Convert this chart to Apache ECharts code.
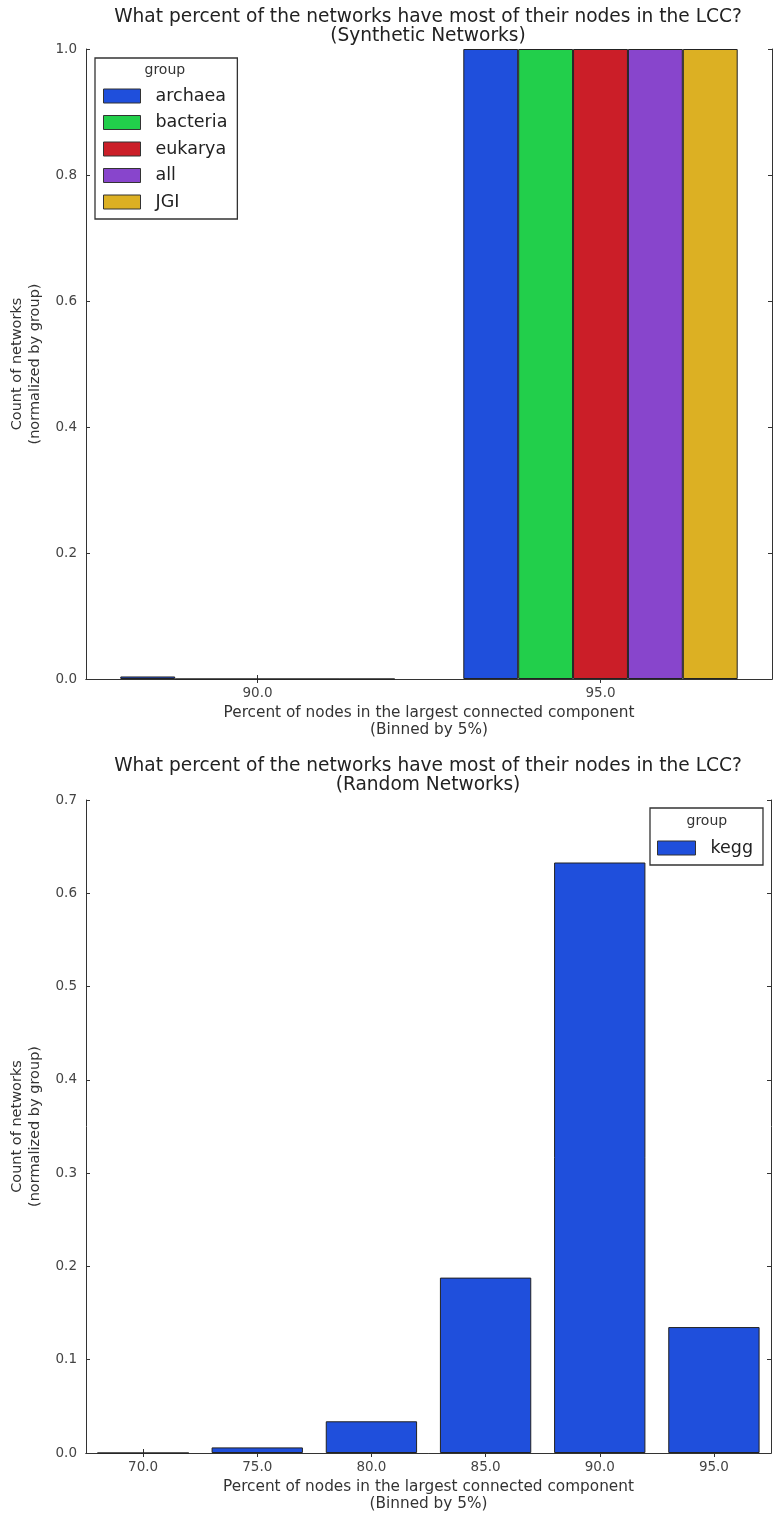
<!DOCTYPE html>
<html>
<head>
<meta charset="utf-8">
<script src="https://cdn.jsdelivr.net/npm/echarts@6/dist/echarts.min.js"></script>
<style>html,body{margin:0;padding:0;background:#fff}#c{width:775px;height:1517px}</style>
</head>
<body>
<div id="c"></div>
<script>
// ---- Data ----
const synthCategories = ['90.0', '95.0'];
const synthGroups = ['archaea', 'bacteria', 'eukarya', 'all', 'JGI'];
const archaea = [0.004, 1.0];
const bacteria = [0, 1.0];
const eukarya = [0, 1.0];
const allNet = [0, 1.0];
const jgi = [0, 1.0];
const synthValues = [archaea, bacteria, eukarya, allNet, jgi];
const synthColors = ['#1f4fdc', '#22cf4b', '#cb1e28', '#8845cc', '#dcb023'];

const randomCategories = ['70.0', '75.0', '80.0', '85.0', '90.0', '95.0'];
const kegg = [0.0, 0.006, 0.034, 0.188, 0.633, 0.135];

const synthTicks = [0.0, 0.2, 0.4, 0.6, 0.8, 1.0];
const randomTicks = [0.0, 0.1, 0.2, 0.3, 0.4, 0.5, 0.6, 0.7];

const title1 = 'What percent of the networks have most of their nodes in the LCC?';
const xName = 'Percent of nodes in the largest connected component\n(Binned by 5%)';
const yName = 'Count of networks\n(normalized by group)';

// ---- Styling ----
const FONT = 'DejaVu Sans';
const lineC = '#333';
const tickLabel = {color: '#444', fontFamily: FONT, fontSize: 13.5};

function xAxisPair(gridIndex, cats) {
  return [
    {type: 'category', gridIndex, data: cats, position: 'bottom',
     axisLine: {show: true, lineStyle: {color: lineC, width: 1}},
     axisTick: {show: true, inside: true, length: 4, alignWithLabel: true, lineStyle: {color: lineC}},
     axisLabel: Object.assign({margin: 7}, tickLabel),
     name: xName, nameLocation: 'middle', nameGap: 26,
     nameTextStyle: {color: '#333', fontFamily: FONT, fontSize: 15.3, lineHeight: 17},
     splitLine: {show: false}},
    {type: 'category', gridIndex, data: cats, position: 'top',
     axisLine: {show: true, lineStyle: {color: lineC, width: 1}},
     axisTick: {show: true, inside: true, length: 4, alignWithLabel: true, lineStyle: {color: lineC}},
     axisLabel: {show: false}, splitLine: {show: false}}
  ];
}
function yAxisPair(gridIndex, ticks) {
  const mn = ticks[0], mx = ticks[ticks.length - 1];
  const iv = +(ticks[1] - ticks[0]).toFixed(3);
  return [
    {type: 'value', gridIndex, min: mn, max: mx, interval: iv, position: 'left',
     axisLine: {show: true, lineStyle: {color: lineC, width: 1}},
     axisTick: {show: true, inside: true, length: 4, lineStyle: {color: lineC}},
     axisLabel: Object.assign({margin: 9, formatter: v => v.toFixed(1)}, tickLabel),
     splitLine: {show: false},
     name: yName, nameLocation: 'middle', nameGap: 39, nameRotate: 90,
     nameTextStyle: {color: '#333', fontFamily: FONT, fontSize: 14.5, lineHeight: 18}},
    {type: 'value', gridIndex, min: mn, max: mx, interval: iv, position: 'right',
     axisLine: {show: true, lineStyle: {color: lineC, width: 1}},
     axisTick: {show: true, inside: true, length: 4, lineStyle: {color: lineC}},
     axisLabel: {show: false}, splitLine: {show: false}}
  ];
}

const series = synthGroups.map((g, i) => ({
  name: g, type: 'bar', xAxisIndex: 0, yAxisIndex: 0,
  data: synthValues[i], barGap: '0%', barCategoryGap: '20%',
  itemStyle: {color: synthColors[i], borderColor: '#222', borderWidth: 1},
  emphasis: {disabled: true}
}));
series.push({
  name: 'kegg', type: 'bar', xAxisIndex: 2, yAxisIndex: 2,
  data: kegg, barWidth: '80%',
  itemStyle: {color: synthColors[0], borderColor: '#222', borderWidth: 1},
  emphasis: {disabled: true}
});

const legendText = {color: '#222', fontFamily: FONT, fontSize: 17.5, lineHeight: 18, padding: [0, 0, 0, 10]};
const titleStyle = {color: '#222', fontFamily: FONT, fontSize: 18.6, fontWeight: 'normal', lineHeight: 19};

const option = {
  animation: false,
  backgroundColor: '#fff',
  title: [
    {text: title1 + '\n(Synthetic Networks)', left: 428, top: 8, padding: 0, textAlign: 'center', textStyle: titleStyle},
    {text: title1 + '\n(Random Networks)', left: 428, top: 757, padding: 0, textAlign: 'center', textStyle: titleStyle}
  ],
  grid: [
    {left: 86, right: 3, top: 49, height: 630, containLabel: false},
    {left: 86, right: 4, top: 800, height: 653, containLabel: false}
  ],
  xAxis: [...xAxisPair(0, synthCategories), ...xAxisPair(1, randomCategories)],
  yAxis: [...yAxisPair(0, synthTicks), ...yAxisPair(1, randomTicks)],
  legend: [
    {data: synthGroups, orient: 'vertical', left: 95, top: 58, icon: 'rect',
     itemWidth: 37, itemHeight: 14, itemGap: 8.5, padding: [29, 10, 8, 8],
     borderColor: '#333', borderWidth: 1.3, selectedMode: false,
     itemStyle: {borderColor: '#333', borderWidth: 1}, textStyle: legendText},
    {data: ['kegg'], orient: 'vertical', left: 650, top: 808, icon: 'rect',
     itemWidth: 38, itemHeight: 14, padding: [31, 10, 8, 7],
     borderColor: '#333', borderWidth: 1.3, selectedMode: false,
     itemStyle: {borderColor: '#333', borderWidth: 1}, textStyle: legendText}
  ],
  graphic: [
    {type: 'text', left: 144.5, top: 63, style: {text: 'group', fill: '#333', font: '14px "DejaVu Sans"'}},
    {type: 'text', left: 686.5, top: 814, style: {text: 'group', fill: '#333', font: '14px "DejaVu Sans"'}}
  ],
  series
};

const chart = echarts.init(document.getElementById('c'), null, {renderer: 'canvas'});
chart.setOption(option);
</script>
</body>
</html>
